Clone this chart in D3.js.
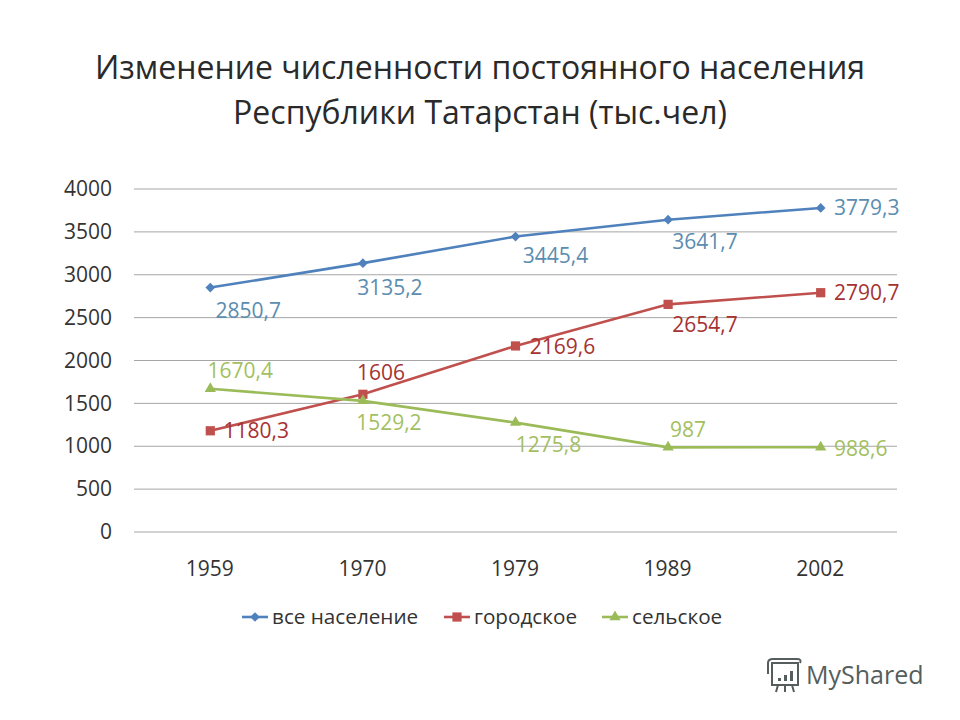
<!DOCTYPE html>
<html>
<head>
<meta charset="utf-8">
<script src="https://cdnjs.cloudflare.com/ajax/libs/d3/7.8.5/d3.min.js"></script>
<style>
html, body { margin: 0; padding: 0; background: #fff; }
svg { display: block; }
text { font-family: "Open Sans", "Noto Sans", sans-serif; }
</style>
</head>
<body>
<script>
// data
const years = ["1959", "1970", "1979", "1989", "2002"];
const total = [2850.7, 3135.2, 3445.4, 3641.7, 3779.3];
const urban = [1180.3, 1606, 2169.6, 2654.7, 2790.7];
const rural = [1670.4, 1529.2, 1275.8, 987, 988.6];
const totalLabels = ["2850,7", "3135,2", "3445,4", "3641,7", "3779,3"];
const urbanLabels = ["1180,3", "1606", "2169,6", "2654,7", "2790,7"];
const ruralLabels = ["1670,4", "1529,2", "1275,8", "987", "988,6"];
const yTicks = [0, 500, 1000, 1500, 2000, 2500, 3000, 3500, 4000];
const seriesNames = ["все население", "городское", "сельское"];
const titleLines = ["Изменение численности постоянного населения", "Республики Татарстан (тыс.чел)"];

const w = 960, h = 720;
const plotLeft = 134, plotRight = 897, plotTop = 189, plotBottom = 532;

// label offsets per series, same order as years
const series = [
    { name: seriesNames[0], values: total, labels: totalLabels, color: "#4f81bd", text: "#5b8db0", shape: d3.symbolDiamond2, size: 60,
      off: [[38, 23], [27, 24], [40, 19], [37, 22], [46, 0]] },
    { name: seriesNames[1], values: urban, labels: urbanLabels, color: "#c0504d", text: "#a63232", shape: d3.symbolSquare, size: 85,
      off: [[46, 0], [18, -22], [47, 1], [37, 20], [46, 0]] },
    { name: seriesNames[2], values: rural, labels: ruralLabels, color: "#9bbb59", text: "#a3bf62", shape: d3.symbolTriangle, size: 55,
      off: [[30, -18], [26, 22], [33, 22], [20, -18], [40, 1]] }
];

const svg = d3.select("body").append("svg")
    .attr("width", w)
    .attr("height", h);

svg.append("rect").attr("width", w).attr("height", h).attr("fill", "#fff");

// title
svg.selectAll(".title")
    .data(titleLines)
    .enter()
    .append("text")
    .attr("class", "title")
    .attr("x", 480)
    .attr("y", (d, i) => 79 + i * 45)
    .attr("text-anchor", "middle")
    .attr("font-size", "32px")
    .attr("fill", "#2a2a2a")
    .text(d => d);

const x = d3.scalePoint().domain(years).range([plotLeft, plotRight]).padding(0.5);
const y = d3.scaleLinear().domain([0, 4000]).range([plotBottom, plotTop]);

// grid
svg.selectAll(".grid")
    .data(yTicks)
    .enter()
    .append("line")
    .attr("x1", plotLeft)
    .attr("x2", plotRight)
    .attr("y1", d => y(d))
    .attr("y2", d => y(d))
    .attr("stroke", "#a6a6a6")
    .attr("stroke-width", 1);

// axes
const yAxis = svg.append("g")
    .attr("transform", "translate(" + plotLeft + ",0)")
    .call(d3.axisLeft(y).tickValues(yTicks).tickSize(0).tickPadding(22).tickFormat(d3.format("d")));
const xAxis = svg.append("g")
    .attr("transform", "translate(-1," + plotBottom + ")")
    .call(d3.axisBottom(x).tickSize(0).tickPadding(29));
[yAxis, xAxis].forEach(a => {
    a.select(".domain").remove();
    a.selectAll("text")
        .attr("font-family", "'Open Sans', 'Noto Sans', sans-serif")
        .attr("font-size", "21px")
        .attr("fill", "#333");
});

const line = d3.line()
    .x((d, i) => x(years[i]))
    .y(d => y(d));

series.forEach(s => {
    svg.append("path")
        .attr("d", line(s.values))
        .attr("fill", "none")
        .attr("stroke", s.color)
        .attr("stroke-width", 2.6);

    svg.selectAll(null)
        .data(s.values)
        .enter()
        .append("path")
        .attr("d", d3.symbol().type(s.shape).size(s.size))
        .attr("transform", (d, i) => "translate(" + x(years[i]) + "," + y(d) + ")")
        .attr("fill", s.color);

    svg.selectAll(null)
        .data(s.values)
        .enter()
        .append("text")
        .attr("x", (d, i) => x(years[i]) + s.off[i][0])
        .attr("y", (d, i) => y(d) + s.off[i][1])
        .attr("dy", "0.35em")
        .attr("text-anchor", "middle")
        .attr("font-size", "21px")
        .attr("fill", s.text)
        .text((d, i) => s.labels[i]);
});

// legend
const legendX = [242, 444, 602];
series.forEach((s, i) => {
    const g = svg.append("g").attr("transform", "translate(" + legendX[i] + ",617)");
    g.append("line").attr("x1", 0).attr("x2", 26).attr("stroke", s.color).attr("stroke-width", 2.6);
    g.append("path")
        .attr("d", d3.symbol().type(s.shape).size(s.size))
        .attr("transform", "translate(13,0)")
        .attr("fill", s.color);
    g.append("text")
        .attr("x", 30)
        .attr("dy", "0.35em")
        .attr("font-size", "20.7px")
        .attr("fill", "#333")
        .text(s.name);
});

// watermark
const mark = svg.append("g").attr("transform", "translate(767,658)").attr("fill", "none").attr("stroke", "#555e5c").attr("stroke-width", 2);
mark.append("rect").attr("x", 5).attr("y", 5).attr("width", 26).attr("height", 22);
mark.append("path").attr("d", "M1 16V5Q1 1 6 1H30Q35 1 33 5M11 27L9 34M18 27V34M25 27L27 34");
mark.selectAll(null)
    .data([3, 6, 10])
    .enter()
    .append("rect")
    .attr("x", (d, i) => 11 + i * 6)
    .attr("y", d => 23 - d)
    .attr("width", 3)
    .attr("height", d => d)
    .attr("fill", "#555e5c")
    .attr("stroke", "none");
svg.append("text")
    .attr("x", 806)
    .attr("y", 684)
    .attr("font-size", "25px")
    .attr("fill", "#555e5c")
    .text("MyShared");
</script>
</body>
</html>
